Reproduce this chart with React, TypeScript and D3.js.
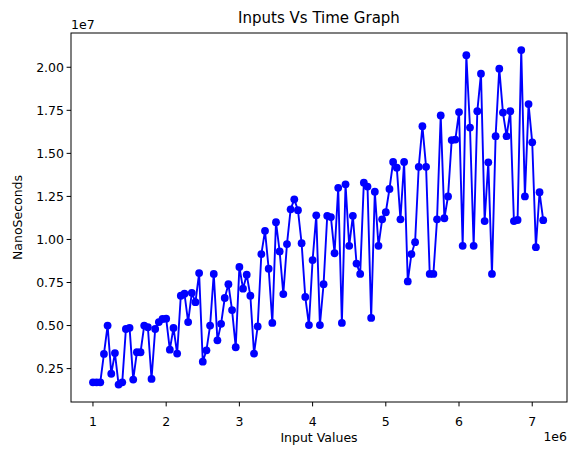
import * as d3 from "d3";

// y values in units of 1e7 ns, x steps 0.05e6 from 1e6
const startInput = 1e6;
const inputStep = 0.05e6;
const times = [
  0.17, 0.17, 0.17, 0.335, 0.5, 0.22, 0.34, 0.157, 0.17, 0.48, 0.487, 0.186, 0.345, 0.345, 0.5, 0.49,
  0.19, 0.48, 0.52, 0.538, 0.54, 0.36, 0.486, 0.337, 0.673, 0.685, 0.52, 0.69, 0.636, 0.805, 0.29, 0.356,
  0.5, 0.8, 0.414, 0.51, 0.66, 0.74, 0.59, 0.374, 0.84, 0.714, 0.795, 0.673, 0.337, 0.495, 0.915, 1.05,
  0.83, 0.515, 1.1, 0.93, 0.683, 0.973, 1.175, 1.233, 1.17, 0.978, 0.666, 0.503, 0.88, 1.14, 0.503, 0.74,
  1.137, 1.13, 0.92, 1.3, 0.515, 1.32, 0.963, 1.137, 0.86, 0.8, 1.33, 1.307, 0.544, 1.277, 0.963, 1.117,
  1.158, 1.293, 1.45, 1.417, 1.117, 1.45, 0.756, 0.915, 0.984, 1.422, 1.658, 1.422, 0.8, 0.8, 1.117, 1.72,
  1.123, 1.25, 1.577, 1.58, 1.74, 0.963, 2.07, 1.65, 0.963, 1.745, 1.963, 1.107, 1.448, 0.8, 1.6, 1.992,
  1.737, 1.6, 1.745, 1.107, 1.113, 2.1, 1.25, 1.786, 1.564, 0.955, 1.274, 1.112,
];
const xTicks = [1, 2, 3, 4, 5, 6, 7];
const yTicks = [0.25, 0.5, 0.75, 1.0, 1.25, 1.5, 1.75, 2.0];

export default function App() {
  const W = 576;
  const H = 455;
  const m = { left: 71, right: 567, top: 33, bottom: 402 };
  const x = d3.scaleLinear().domain([0.7, 7.475]).range([m.left, m.right]);
  const y = d3.scaleLinear().domain([0.056, 2.199]).range([m.bottom, m.top]);
  const pts = times.map((v, i) => [(startInput + i * inputStep) / 1e6, v] as [number, number]);
  const line = d3.line<[number, number]>().x((d) => x(d[0])).y((d) => y(d[1]));
  const font = "DejaVu Sans, sans-serif";

  return (
    <svg width={W} height={H} style={{ position: "absolute", left: 0, top: 0 }} fontFamily={font}>
      <rect width={W} height={H} fill="white" />
      <path d={line(pts) ?? ""} fill="none" stroke="#0000ff" strokeWidth={1.9} />
      {pts.map((d, i) => (
        <circle key={i} cx={x(d[0])} cy={y(d[1])} r={3.9} fill="#0000ff" />
      ))}
      <rect x={m.left} y={m.top} width={m.right - m.left} height={m.bottom - m.top} fill="none" stroke="black" strokeWidth={1} />
      {/* x axis */}
      {xTicks.map((t) => (
        <g key={t} transform={`translate(${x(t)},${m.bottom})`}>
          <line y2={4.4} stroke="black" />
          <text y={18} textAnchor="middle" fontSize={12.5} dominantBaseline="hanging" dy={-4}>{t}</text>
        </g>
      ))}
      <text x={(m.left + m.right) / 2} y={442} textAnchor="middle" fontSize={12.5}>Input Values</text>
      <text x={m.right} y={441} textAnchor="end" fontSize={12.5}>1e6</text>
      {/* y axis */}
      {yTicks.map((t) => (
        <g key={t} transform={`translate(${m.left},${y(t)})`}>
          <line x2={-4.4} stroke="black" />
          <text x={-7} textAnchor="end" dy="0.35em" fontSize={12.5}>{t.toFixed(2)}</text>
        </g>
      ))}
      <text x={m.left} y={29} fontSize={12.5}>1e7</text>
      <text transform={`translate(22,${(m.top + m.bottom) / 2}) rotate(-90)`} textAnchor="middle" fontSize={12.5}>NanoSeconds</text>
      <text x={(m.left + m.right) / 2} y={23} textAnchor="middle" fontSize={15}>Inputs Vs Time Graph</text>
    </svg>
  );
}
